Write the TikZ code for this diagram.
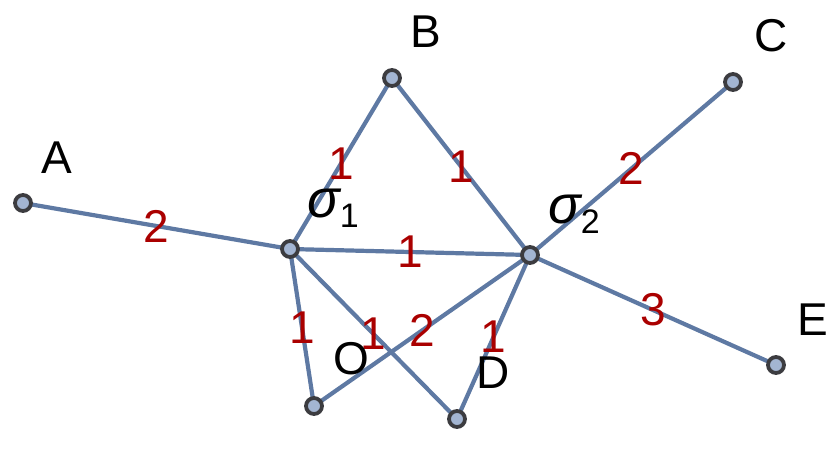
\documentclass[tikz,border=0pt]{standalone}
\usepackage{fontspec}
\setmainfont{Liberation Sans}
\usetikzlibrary{positioning}

\definecolor{edgeblue}{RGB}{94,121,163}
\definecolor{vertfill}{RGB}{163,181,210}
\definecolor{vertdraw}{RGB}{60,60,64}
\definecolor{wred}{RGB}{170,0,0}

\newcommand{\sub}[1]{\raisebox{-10pt}{\upshape\fontsize{34}{36}\selectfont #1}}
\newcommand{\sig}{{\itshape\fontsize{54}{56}\selectfont σ}}

\begin{document}
\begin{tikzpicture}[x=1pt, y=-1pt, font=\fontsize{46}{50}\selectfont,
    vert/.style={circle, draw=vertdraw, fill=vertfill, line width=3.8pt, minimum size=16pt, inner sep=0pt},
    vlabel/.style={anchor=base west, inner sep=0pt},
    wlabel/.style={text=wred, inner sep=0pt},
    link/.style={draw=edgeblue, line width=4.2pt}]
    \useasboundingbox (0,0) rectangle (830,448);

    % vertices
    \coordinate (A)  at (23,203);
    \coordinate (B)  at (392,78);
    \coordinate (C)  at (733,82);
    \coordinate (s1) at (290,249);
    \coordinate (s2) at (530,255);
    \coordinate (E)  at (776,365);
    \coordinate (O)  at (314,406);
    \coordinate (D)  at (457,419);

    % weighted edges
    \path[link] (A) -- node[wlabel] (w1) {2} (s1);
    \path[link] (s1) -- node[wlabel] (w2) {1} (B);
    \path[link] (B) -- node[wlabel] (w3) {1} (s2);
    \path[link] (s1) -- node[wlabel] (w4) {1} (s2);
    \path[link] (s2) -- node[wlabel] (w5) {2} (C);
    \path[link] (s2) -- node[wlabel] (w6) {3} (E);
    \path[link] (s1) -- node[wlabel] (w7) {1} (O);
    \path[link] (s1) -- node[wlabel] (w8) {1} (D);
    \path[link] (O) -- node[wlabel] (w9) {2} (s2);
    \path[link] (D) -- node[wlabel] (w10) {1} (s2);

    % vertex dots on top
    \foreach \v in {A,B,C,s1,s2,E,O,D}
      \node[vert] (v\v) at (\v) {};

    % vertex names
    \node[vlabel] (lA)  at ([shift={(18,-30)}]A)  {A};
    \node[vlabel] (lB)  at ([shift={(18,-31)}]B)  {B};
    \node[vlabel] (lC)  at ([shift={(21,-31)}]C)  {C};
    \node[vlabel] (lE)  at ([shift={(21,-30)}]E)  {E};
    \node[vlabel] (lO)  at ([shift={(19,-32)}]O)  {O};
    \node[vlabel] (lD)  at ([shift={(19,-31)}]D)  {D};
    \node[vlabel] (ls1) at ([shift={(17,-32)}]s1) {\sig\sub{1}};
    \node[vlabel] (ls2) at ([shift={(18,-32)}]s2) {\sig\sub{2}};
\end{tikzpicture}
\end{document}
